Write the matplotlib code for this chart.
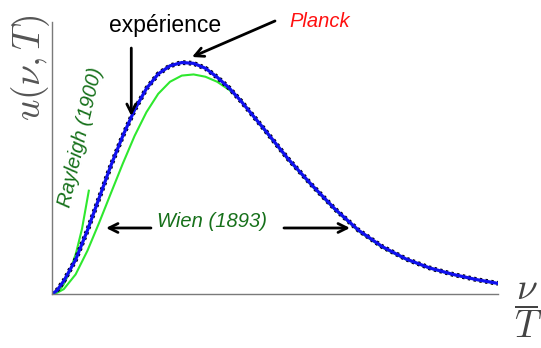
import matplotlib
matplotlib.use("Agg")
import matplotlib.pyplot as plt

plt.rcParams['font.family'] = ['Liberation Sans', 'DejaVu Sans']
plt.rcParams['mathtext.fontset'] = 'cm'

# nu/T on x, spectral energy density u(nu, T) on y (arbitrary units)
x_planck = [0, 0.1, 0.25, 0.5, 0.75, 1.0, 1.25, 1.5, 1.75, 2.0, 2.25, 2.5, 2.75,
            3.0, 3.25, 3.5, 3.75, 4.0, 4.5, 5.0, 5.5, 6.0, 6.5, 7.0, 7.5, 8.0,
            8.5, 9.0, 9.45]
u_planck = [0, 0.02, 0.08, 0.21, 0.39, 0.59, 0.79, 0.97, 1.13, 1.26, 1.35, 1.40,
            1.42, 1.415, 1.385, 1.33, 1.265, 1.185, 1.01, 0.83, 0.67, 0.52, 0.39,
            0.29, 0.215, 0.16, 0.12, 0.088, 0.065]

x_wien = [0.06, 0.25, 0.5, 0.75, 1.0, 1.25, 1.5, 1.75, 2.0, 2.25, 2.5, 2.75,
          3.0, 3.25, 3.5, 3.75, 4.0, 4.25, 4.5, 5.0, 5.5, 6.0, 6.5, 7.0, 7.5,
          8.0, 8.5, 9.0, 9.45]
u_wien = [0, 0.03, 0.12, 0.265, 0.438, 0.62, 0.80, 0.97, 1.115, 1.228, 1.302,
          1.340, 1.347, 1.333, 1.302, 1.253, 1.19, 1.095, 1.005, 0.825, 0.665,
          0.515, 0.385, 0.285, 0.212, 0.158, 0.118, 0.087, 0.064]

x_rayleigh = [0.0, 0.15, 0.25, 0.381, 0.508, 0.636, 0.784]
u_rayleigh = [0, 0.02, 0.06, 0.14, 0.25, 0.40, 0.64]

fig = plt.figure(figsize=(5.41, 3.48), dpi=100)
ax = fig.add_axes([52 / 541, 54 / 348, 446 / 541, 272 / 348])
ax.set_xlim(0, 9.45)
ax.set_ylim(0, 272 / 163)

green = '#2ee82e'
dark_green = '#16701a'

ax.plot(x_rayleigh, u_rayleigh, color=green, lw=1.5, solid_capstyle='butt')
ax.plot(x_wien, u_wien, color=green, lw=1.5)
# experiment as black dots under the Planck law
ax.plot(x_planck, u_planck, color='black', lw=3.5, linestyle=(0, (0.5, 0.7)))
ax.plot(x_planck, u_planck, color='#1010ee', lw=2.3)

for s in ['top', 'right']:
    ax.spines[s].set_visible(False)
for s in ['left', 'bottom']:
    ax.spines[s].set_color('#7a7a7a')
    ax.spines[s].set_linewidth(1.0)
ax.set_xticks([])
ax.set_yticks([])

arrow = dict(arrowstyle='->', color='black', lw=2, mutation_scale=16,
             shrinkA=0, shrinkB=0)
ax.annotate('', xy=(1.68, 1.092), xytext=(1.68, 1.509), arrowprops=arrow)
ax.annotate('', xy=(2.966, 1.454), xytext=(4.725, 1.675), arrowprops=arrow,
            annotation_clip=False)
ax.annotate('', xy=(1.144, 0.405), xytext=(2.097, 0.405), arrowprops=arrow)
ax.annotate('', xy=(6.314, 0.405), xytext=(4.915, 0.405), arrowprops=arrow)

ax.text(2.39, 1.607, 'expérience', fontsize=16.5, color='black',
        ha='center', va='baseline', clip_on=False)
ax.text(5.03, 1.638, 'Planck', fontsize=14.5, color='#ff1010', style='italic',
        ha='left', va='baseline', clip_on=False)
ax.text(2.225, 0.411, 'Wien (1893)', fontsize=14.5, color=dark_green,
        style='italic', ha='left', va='baseline')
ax.text(0.6, 0.963, 'Rayleigh (1900)', fontsize=14.5, color=dark_green,
        style='italic', rotation=77, rotation_mode='anchor',
        ha='center', va='center')

fig.text(31 / 541, 1 - 68 / 348, r'$u(\nu,T)$', rotation=90, fontsize=27,
         color='#555555', ha='center', va='center')
fig.text(528 / 541, 1 - 310 / 348, r'$\dfrac{\nu}{T}$', fontsize=27,
         color='#444444', ha='center', va='center')

fig.savefig('out.png', dpi=100)
